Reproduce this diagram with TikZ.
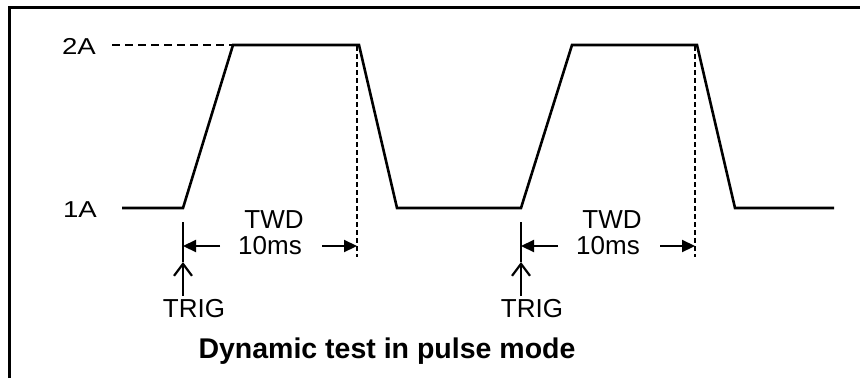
\documentclass[tikz,border=0pt]{standalone}
\usepackage{fontspec}
\setmainfont{Liberation Sans}
\newfontfamily\levelfont[FakeStretch=1.2]{Liberation Sans}
\usetikzlibrary{arrows.meta}

\begin{document}
\begin{tikzpicture}[x=1pt, y=-1pt,
    wave/.style={line width=2.6pt, line join=miter},
    guide/.style={line width=2pt, dash pattern=on 5pt off 3pt},
    dimarrow/.style={line width=2.2pt, -{Triangle[length=13pt,width=12pt]}},
    trigarrow/.style={line width=2.2pt, -{Straight Barb[length=12pt,width=18pt,line width=2.2pt]}},
    lbl/.style={font=\fontsize{26}{30}\selectfont, anchor=base, inner sep=0pt},
    lvl/.style={font=\levelfont\fontsize{23}{26}\selectfont, anchor=base, inner sep=0pt}]
  \useasboundingbox (0,0) rectangle (860,378);

  % Frame
  \draw[line width=3pt] (9,378) -- (9,7) -- (860,7);

  % Levels
  \node[lvl] (lvlhi) at (79,54) {2A};
  \node[lvl] (lvllo) at (80,217) {1A};
  \draw[guide, dash pattern=on 8pt off 5pt] (112,45) -- (233,45);

  % Waveform
  \draw[wave] (122,208) -- (183,208) -- (233,45) -- (359,45) -- (397,208)
    -- (521,208) -- (572,45) -- (697,45) -- (735,208) -- (834,208);

  % Trigger and pulse width marks
  \foreach \n/\t in {1/183, 2/521} {
    \coordinate (trig\n) at (\t,246);
    \coordinate (end\n) at (\t+174,246);
    \coordinate (tick\n) at (\t,222);
    \coordinate (head\n) at (\t,262);
    \coordinate (foot\n) at (\t,296);
    \draw[guide] (\t+174,46) -- (\t+174,257);
    \draw[line width=2.2pt] (tick\n) -- (head\n);
    \draw[trigarrow] (foot\n) -- (head\n);
    \node[lbl] (twd\n) at (\t+91,228) {TWD};
    \node[lbl] (dur\n) at (\t+87,254) {10ms};
    \node[lbl] (trg\n) at (\t+11,317) {TRIG};
    \coordinate (la\n) at (\t+37,246);
    \coordinate (ra\n) at (\t+139,246);
    \draw[dimarrow] (la\n) -- (trig\n);
    \draw[dimarrow] (ra\n) -- (end\n);
  }

  \node[font=\bfseries\fontsize{28.5}{32}\selectfont, anchor=base, inner sep=0pt]
    (title) at (387,358) {Dynamic test in pulse mode};
\end{tikzpicture}
\end{document}
